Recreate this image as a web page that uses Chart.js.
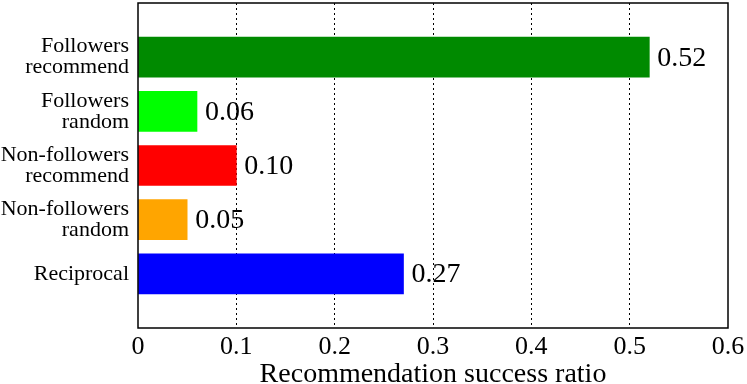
<!DOCTYPE html>
<html>
<head>
<meta charset="utf-8">
<script src="https://cdn.jsdelivr.net/npm/chart.js@4"></script>
<style>
  html, body { margin: 0; padding: 0; background: #fff; }
  #wrap { width: 747px; height: 384px; }
</style>
</head>
<body>
<div id="wrap"><canvas id="ratioChart" width="747" height="384"></canvas></div>
<script>
// Data, top to bottom. Empty slots at both ends keep the gnuplot-style gap.
const CATEGORIES = [
  '',
  ['Followers', 'recommend'],
  ['Followers', 'random'],
  ['Non-followers', 'recommend'],
  ['Non-followers', 'random'],
  'Reciprocal',
  ''
];
const RATIOS     = [null, 0.52, 0.06, 0.10, 0.05, 0.27, null];
const BAR_COLORS = [null, '#008a00', '#00ff00', '#ff0000', '#ffa500', '#0000ff', null];
const X_TICKS    = [0, 0.1, 0.2, 0.3, 0.4, 0.5, 0.6];

const SERIF = "'Liberation Serif', 'Times New Roman', serif";

// Prints the value just right of each bar
const valueLabels = {
  id: 'valueLabels',
  afterDatasetsDraw(chart) {
    const ctx = chart.ctx;
    const meta = chart.getDatasetMeta(0);
    ctx.save();
    ctx.font = '28px ' + SERIF;
    ctx.fillStyle = '#000';
    ctx.textAlign = 'left';
    ctx.textBaseline = 'middle';
    meta.data.forEach((bar, i) => {
      if (RATIOS[i] == null) return;
      ctx.fillText(RATIOS[i].toFixed(2), bar.x + 8, bar.y + 1);
    });
    ctx.restore();
  }
};

// Closed black frame round the plot
const frame = {
  id: 'frame',
  afterDraw(chart) {
    const a = chart.chartArea;
    const ctx = chart.ctx;
    ctx.save();
    ctx.strokeStyle = '#000';
    ctx.lineWidth = 1.5;
    ctx.strokeRect(a.left, a.top, a.right - a.left, a.bottom - a.top);
    ctx.restore();
  }
};

new Chart(document.getElementById('ratioChart'), {
  type: 'bar',
  data: {
    labels: CATEGORIES,
    datasets: [{
      data:            RATIOS,
      backgroundColor: BAR_COLORS,
      borderWidth:     0,
      barThickness:    40,
    }],
  },
  options: {
    indexAxis:           'y',
    responsive:          false,
    animation:           false,
    layout:              { padding: { top: 3, right: 19, left: 0, bottom: 0 } },
    plugins: {
      legend:  { display: false },
      tooltip: { enabled: false },
    },
    scales: {
      x: {
        type: 'linear',
        min:  0,
        max:  0.6,
        afterBuildTicks: (axis) => { axis.ticks = X_TICKS.map(v => ({ value: v })); },
        afterFit: (axis) => {
          axis.height = 56;
          axis.paddingLeft = 0;
          axis.paddingRight = 0;
        },
        ticks: {
          color:    '#000',
          padding:  4,
          font:     { family: SERIF, size: 26 },
          callback: (v) => String(v),
        },
        grid: {
          color:      (c) => (c.tick && (c.tick.value === 0 || c.tick.value === 0.6)) ? 'rgba(0,0,0,0)' : '#000',
          lineWidth:  1,
          drawTicks:  false,
        },
        border: { display: false, dash: [2, 3] },
        title: {
          display: true,
          text:    'Recommendation success ratio',
          color:   '#000',
          font:    { family: SERIF, size: 28, lineHeight: 1 },
          padding: { top: 0, bottom: -5 },
        },
      },
      y: {
        type:   'category',
        offset: false,
        afterFit: (axis) => {
          axis.width = 138;
          axis.paddingTop = 0;
          axis.paddingBottom = 0;
        },
        ticks: {
          color:    '#000',
          padding:  9,
          autoSkip: false,
          font:     { family: SERIF, size: 22, lineHeight: '21px' },
        },
        grid:   { display: false, drawTicks: false },
        border: { display: false },
      },
    },
  },
  plugins: [valueLabels, frame],
});
</script>
</body>
</html>
